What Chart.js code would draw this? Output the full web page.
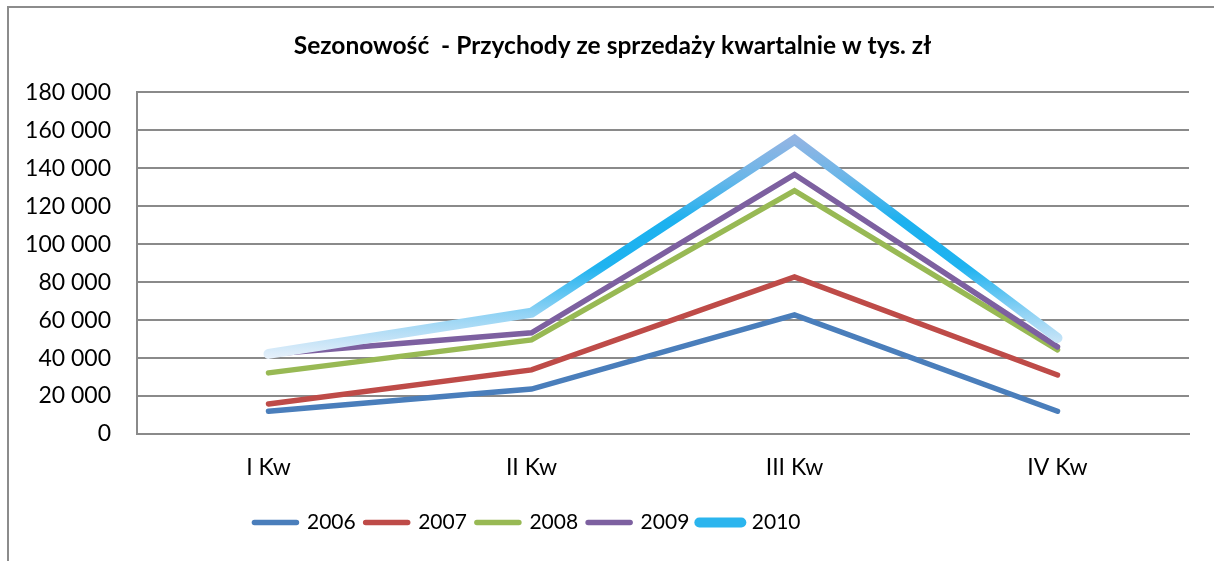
<!DOCTYPE html>
<html>
<head>
<meta charset="utf-8">
<script src="https://cdn.jsdelivr.net/npm/chart.js@4.4.1/dist/chart.umd.min.js"></script>
<style>
  html, body { margin: 0; padding: 0; background: #fff; }
  #wrap { position: relative; width: 1214px; height: 561px; overflow: hidden; }
  #frame { position: absolute; left: 7px; top: 6px; width: 1400px; height: 700px; border: 2px solid #8c8c8c; box-sizing: border-box; }
  #chart { position: absolute; left: 0; top: 0; }
</style>
</head>
<body>
<div id="wrap">
  <div id="frame"></div>
  <canvas id="chart" width="1214" height="561"></canvas>
</div>
<script>
const quarters = ["I Kw", "II Kw", "III Kw", "IV Kw"];
const years = ["2006", "2007", "2008", "2009", "2010"];

const sales2006 = [12000, 23700, 62800, 12000];
const sales2007 = [15800, 33800, 82800, 31100];
const sales2008 = [32200, 49600, 128200, 44300];
const sales2009 = [42000, 53300, 136700, 45900];
const sales2010 = [42200, 63900, 155000, 50600];

const yTicks = [0, 20000, 40000, 60000, 80000, 100000, 120000, 140000, 160000, 180000];

const colors = ["#4a7ebb", "#be4b48", "#98b954", "#7d60a0", "#2bb5ee"];
const FONT = "Lato, 'Open Sans', sans-serif";

// vertical gradient for the 2010 line, pinned to value levels
function gradient2010(ctx) {
  const chart = ctx.chart;
  const y = chart.scales.y;
  if (!chart.chartArea || !y) return colors[4];
  const top = y.getPixelForValue(160000);
  const bot = y.getPixelForValue(40000);
  const g = chart.ctx.createLinearGradient(0, top, 0, bot);
  g.addColorStop(0.0, "#9ab4e2");
  g.addColorStop(0.2, "#6db6e8");
  g.addColorStop(0.4, "#1cb1ef");
  g.addColorStop(0.6, "#1fb3f0");
  g.addColorStop(0.8, "#8fd2f4");
  g.addColorStop(0.92, "#c4e3f7");
  g.addColorStop(1.0, "#e6f0fa");
  return g;
}

const series = [sales2006, sales2007, sales2008, sales2009, sales2010];

const datasets = series.map((data, i) => ({
  label: years[i],
  data: data,
  borderColor: i === 4 ? gradient2010 : colors[i],
  backgroundColor: colors[i],
  borderWidth: i === 4 ? 10 : 5.5,
  borderCapStyle: "round",
  borderJoinStyle: "miter",
  pointRadius: 0,
  pointHoverRadius: 0,
  tension: 0,
  fill: false,
  order: 5 - i
}));

function fmt(v) {
  return String(v).replace(/\B(?=(\d{3})+(?!\d))/g, " ");
}

// nudge title and legend sideways to where they sit in the original
const shiftBoxes = {
  id: "shiftBoxes",
  afterLayout(chart) {
    if (chart.legend) { chart.legend.left -= 67; chart.legend.right -= 67; }
    if (chart.titleBlock) { chart.titleBlock.left += 18; chart.titleBlock.right += 18; }
  }
};

new Chart(document.getElementById("chart"), {
  type: "line",
  data: { labels: quarters, datasets: datasets },
  plugins: [shiftBoxes],
  options: {
    responsive: false,
    animation: false,
    layout: { padding: { left: 0, right: 25, top: 0, bottom: 18 } },
    plugins: {
      title: {
        display: true,
        text: "Sezonowość  - Przychody ze sprzedaży kwartalnie w tys. zł",
        color: "#000",
        font: { family: FONT, size: 24.5, weight: "bold" },
        padding: { top: 31, bottom: 32 }
      },
      legend: {
        position: "bottom",
        labels: {
          usePointStyle: true,
          pointStyle: "line",
          pointStyleWidth: 42,
          boxHeight: 10,
          padding: 10,
          color: "#000",
          font: { family: FONT, size: 21 },
          sort: (a, b) => a.datasetIndex - b.datasetIndex,
          generateLabels: (chart) => {
            const items = Chart.defaults.plugins.legend.labels.generateLabels(chart);
            items.forEach((it) => {
              it.strokeStyle = colors[it.datasetIndex];
              it.lineCap = "round";
            });
            return items;
          }
        }
      },
      tooltip: { enabled: false }
    },
    scales: {
      x: {
        offset: true,
        grid: { display: false, drawTicks: false },
        border: { display: true, color: "#8a8a8a", width: 2 },
        ticks: { color: "#000", padding: 20, font: { family: FONT, size: 23 } },
        afterFit: (scale) => { scale.height = 68; }
      },
      y: {
        min: 0,
        max: 180000,
        afterBuildTicks: (scale) => { scale.ticks = yTicks.map((v) => ({ value: v })); },
        grid: { color: "#8a8a8a", lineWidth: 2, drawTicks: false },
        border: { display: true, color: "#8a8a8a", width: 2 },
        ticks: { color: "#000", padding: 26, font: { family: FONT, size: 23 }, callback: (v) => fmt(v) },
        afterFit: (scale) => { scale.width = 137; }
      }
    }
  }
});
</script>
</body>
</html>
